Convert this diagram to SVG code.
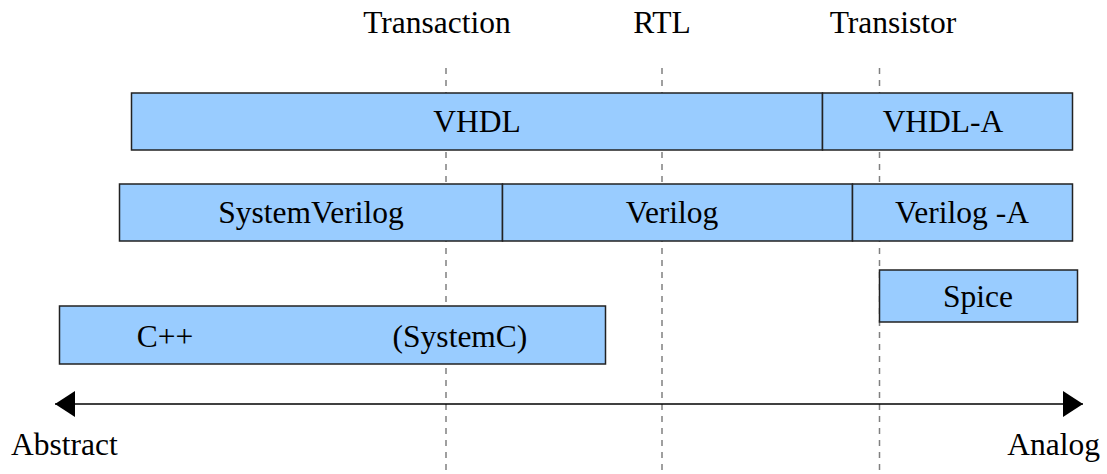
<svg xmlns="http://www.w3.org/2000/svg" width="1107" height="474" viewBox="0 0 1107 474">
  <style>
    text { font-family: "Liberation Serif", "Times New Roman", serif; font-size: 31.5px; fill: #000; }
    .mid { text-anchor: middle; }
    .box { fill: #99ccff; stroke: #222; stroke-width: 1.5; }
    .level { stroke: #808080; stroke-width: 1.5; stroke-dasharray: 6 6; fill: none; }
    .axis { stroke: #000; stroke-width: 1.5; fill: none; }
  </style>
  <defs>
    <marker id="tip" viewBox="0 0 20 26" refX="20" refY="13" markerWidth="20" markerHeight="26" markerUnits="userSpaceOnUse" orient="auto-start-reverse">
      <path d="M0,0 L20,13 L0,26 Z" fill="#000"/>
    </marker>
  </defs>
  <rect width="1107" height="474" fill="#fff"/>

  <!-- abstraction level headings -->
  <g id="levels">
    <text class="mid" x="437" y="33">Transaction</text>
    <text class="mid" x="662" y="33">RTL</text>
    <text class="mid" x="893" y="33">Transistor</text>
  </g>

  <!-- connectors: dashed level guides and the abstract/analog axis -->
  <g id="connectors">
    <line class="level" x1="446" y1="68" x2="446" y2="474"/>
    <line class="level" x1="662" y1="68" x2="662" y2="474"/>
    <line class="level" x1="879.5" y1="68" x2="879.5" y2="474"/>
    <line class="axis" x1="55" y1="404" x2="1083" y2="404" marker-start="url(#tip)" marker-end="url(#tip)"/>
  </g>

  <g id="vhdl">
    <rect class="box" x="131.5" y="93" width="691" height="57"/>
    <text class="mid" x="477" y="132">VHDL</text>
  </g>
  <g id="vhdl-a">
    <rect class="box" x="822.5" y="93" width="250" height="57"/>
    <text class="mid" x="943" y="132">VHDL-A</text>
  </g>
  <g id="systemverilog">
    <rect class="box" x="119.5" y="184" width="383" height="57"/>
    <text class="mid" x="311" y="223">SystemVerilog</text>
  </g>
  <g id="verilog">
    <rect class="box" x="502.5" y="184" width="350" height="57"/>
    <text class="mid" x="672" y="223">Verilog</text>
  </g>
  <g id="verilog-a">
    <rect class="box" x="852.5" y="184" width="220" height="57"/>
    <text class="mid" x="962" y="223">Verilog -A</text>
  </g>
  <g id="spice">
    <rect class="box" x="879.5" y="270" width="198" height="52"/>
    <text class="mid" x="978" y="307">Spice</text>
  </g>
  <g id="cpp">
    <rect class="box" x="59.5" y="306" width="546" height="58"/>
    <text class="mid" x="165" y="347">C++</text>
    <text class="mid" x="460" y="347">(SystemC)</text>
  </g>

  <g id="axis-labels">
    <text x="11" y="455">Abstract</text>
    <text x="1100" y="455" text-anchor="end">Analog</text>
  </g>
</svg>
